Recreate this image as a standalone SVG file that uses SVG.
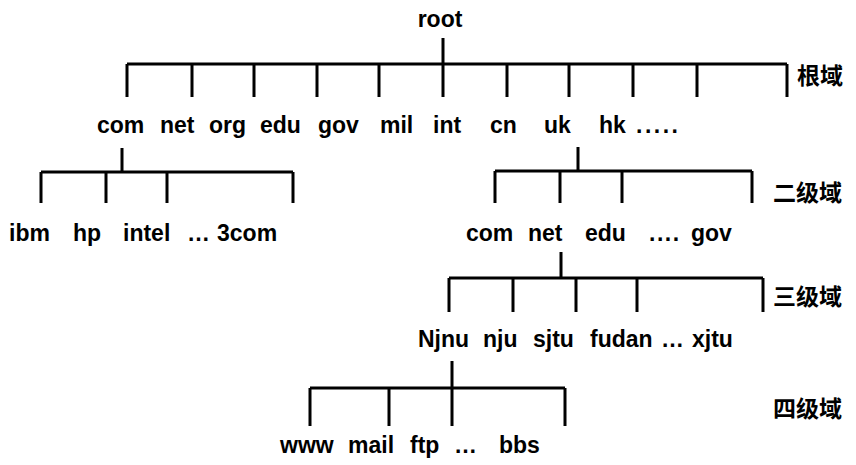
<svg xmlns="http://www.w3.org/2000/svg" width="856" height="465" viewBox="0 0 856 465">
<style>
text{font-family:"Liberation Sans","Noto Sans CJK SC",Arial,sans-serif;font-weight:bold;font-size:23px;fill:#000}
.c{text-anchor:middle}
.d{letter-spacing:2.5px}
.d2{letter-spacing:1.5px}
#connectors path{stroke:#000;stroke-width:3;fill:none}
</style>
<rect width="856" height="465" fill="#fff"/>
<g id="connectors">
<path d="M443 38V64M127 64H787M127 64V97M192 64V97M254 64V97M317 64V97M379 64V97M443 64V97M507 64V97M569 64V97M633 64V97M697 64V97M787 64V97"/>
<path d="M122 148V172M41 172H293M41 172V203M106 172V203M167 172V203M293 172V203"/>
<path d="M578 147V171M495 171H752M495 171V203M560 171V203M622 171V203M752 171V203"/>
<path d="M561 252V278M449 278H763M449 278V312M513 278V312M576 278V312M637 278V312M763 278V312"/>
<path d="M452 361V388M310 388H565M310 388V426M389 388V426M452 388V426M565 388V426"/>
</g>
<g id="n-root"><text x="440" y="27" class="c">root</text></g>
<g id="n-com"><text x="97" y="133">com</text></g>
<g id="n-net"><text x="160" y="133">net</text></g>
<g id="n-org"><text x="209" y="133">org</text></g>
<g id="n-edu"><text x="260" y="133">edu</text></g>
<g id="n-gov"><text x="318" y="133">gov</text></g>
<g id="n-mil"><text x="380" y="133">mil</text></g>
<g id="n-int"><text x="433" y="133">int</text></g>
<g id="n-cn"><text x="490" y="133">cn</text></g>
<g id="n-uk"><text x="544" y="133">uk</text></g>
<g id="n-hk"><text x="599" y="133">hk</text></g>
<g id="n-more1"><text x="636" y="133" class="d">.....</text></g>
<g id="n-ibm"><text x="9" y="241">ibm</text></g>
<g id="n-hp"><text x="73" y="241">hp</text></g>
<g id="n-intel"><text x="123" y="241">intel</text></g>
<g id="n-more2"><text x="187" y="241">…</text></g>
<g id="n-3com"><text x="217" y="241">3com</text></g>
<g id="n-uk-com"><text x="466" y="241">com</text></g>
<g id="n-uk-net"><text x="528" y="241">net</text></g>
<g id="n-uk-edu"><text x="585" y="241">edu</text></g>
<g id="n-more3"><text x="649" y="241" class="d2">....</text></g>
<g id="n-uk-gov"><text x="691" y="241">gov</text></g>
<g id="n-Njnu"><text x="418" y="347">Njnu</text></g>
<g id="n-nju"><text x="483" y="347">nju</text></g>
<g id="n-sjtu"><text x="533" y="347">sjtu</text></g>
<g id="n-fudan"><text x="590" y="347">fudan</text></g>
<g id="n-more4"><text x="661" y="347">…</text></g>
<g id="n-xjtu"><text x="692" y="347">xjtu</text></g>
<g id="n-www"><text x="280" y="453">www</text></g>
<g id="n-mail"><text x="348" y="453">mail</text></g>
<g id="n-ftp"><text x="410" y="453">ftp</text></g>
<g id="n-more5"><text x="454" y="453">…</text></g>
<g id="n-bbs"><text x="499" y="453">bbs</text></g>
<g id="levels">
<text x="797" y="84">根域</text>
<text x="773" y="201">二级域</text>
<text x="773" y="305">三级域</text>
<text x="773" y="417">四级域</text>
</g>
</svg>
